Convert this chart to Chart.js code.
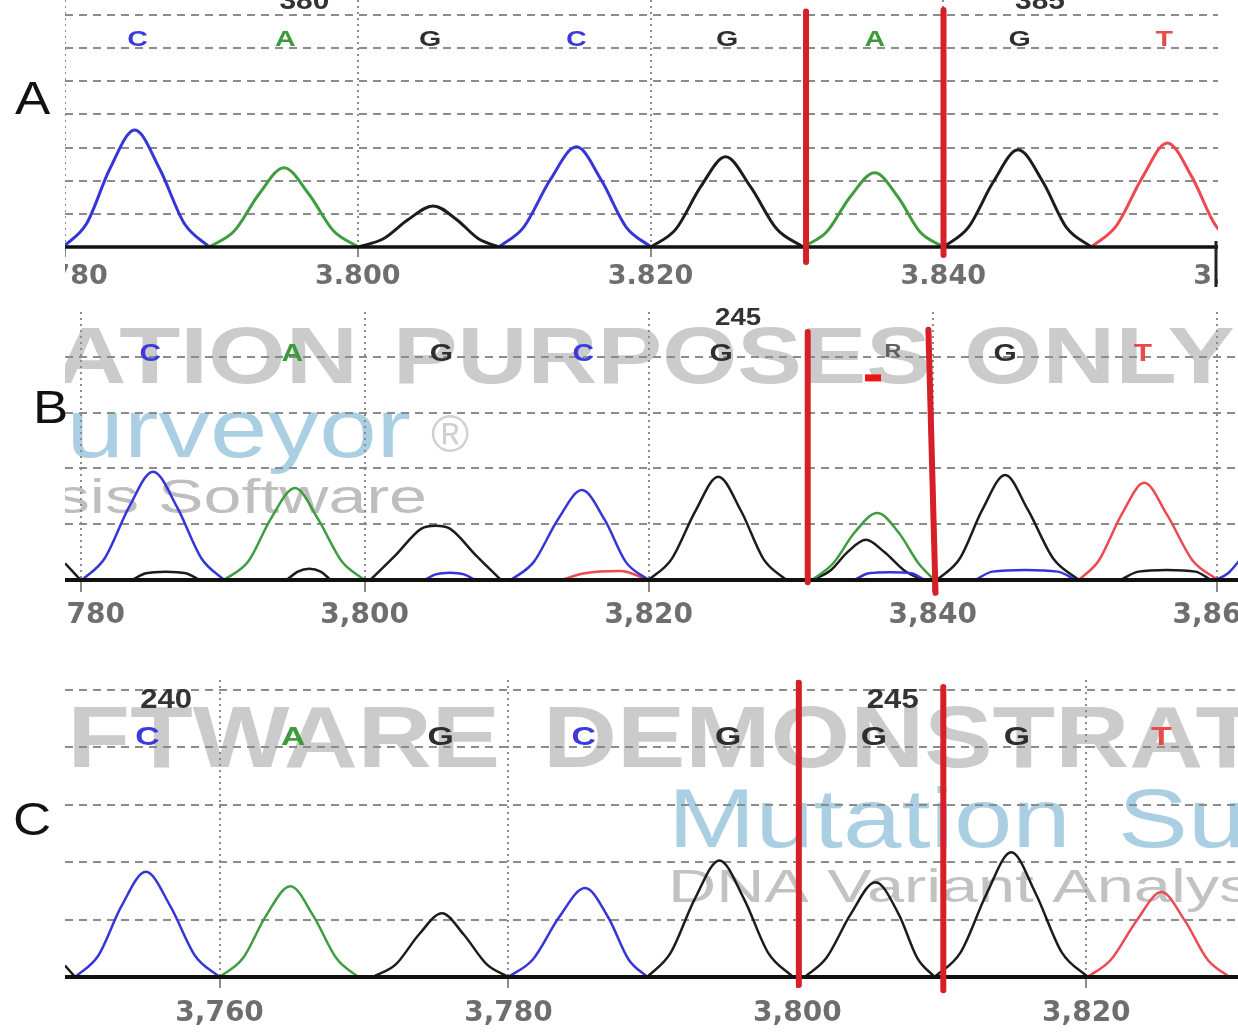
<!DOCTYPE html>
<html><head><meta charset="utf-8">
<script src="https://cdn.jsdelivr.net/npm/chart.js@4/dist/chart.umd.min.js"></script>
<style>
html,body{margin:0;padding:0;background:#fff;}
body{width:1238px;height:1032px;position:relative;overflow:hidden;}
.panel{position:absolute;overflow:hidden;}
.panel canvas{position:absolute;left:0;top:0;}
.plabel{position:absolute;font-family:'Liberation Sans',Arial,sans-serif;font-size:46px;line-height:46px;color:#111;transform:scaleX(1.15);transform-origin:0 0;}
</style></head><body>
<div class="plabel" style="left:15px;top:75px;">A</div>
<div class="plabel" style="left:33px;top:384px;">B</div>
<div class="plabel" style="left:13px;top:796px;">C</div>
<script>
// ================= DATA =================
// Panel A traces: [scan position, signal]
const A_blue = [
 [3779.8,0],[3781.4,0.7],[3783.0,2.36],[3784.7,3.53],[3786.4,2.36],[3788.1,0.7],[3789.8,0],
 [3800,null],
 [3809.6,0],[3811.3,0.6],[3813.1,2.02],[3814.9,3.02],[3816.6,2.02],[3818.3,0.6],[3820,0]
];
const A_green = [
 [3789.8,0],[3791.5,0.48],[3793.2,1.6],[3794.9,2.39],[3796.6,1.6],[3798.3,0.48],[3800,0],
 [3815,null],
 [3830.4,0],[3832.0,0.45],[3833.6,1.5],[3835.3,2.24],[3836.9,1.5],[3838.4,0.45],[3840,0]
];
const A_black = [
 [3800,0],[3801.7,0.25],[3803.4,0.83],[3805.1,1.24],[3806.7,0.83],[3808.2,0.25],[3809.6,0],
 [3815,null],
 [3820,0],[3821.7,0.54],[3823.4,1.82],[3825.1,2.72],[3826.8,1.82],[3828.6,0.54],[3830.4,0],
 [3835,null],
 [3840,0],[3841.7,0.59],[3843.4,1.96],[3845.1,2.93],[3846.8,1.96],[3848.4,0.59],[3850.1,0]
];
const A_red = [
 [3850.1,0],[3851.8,0.63],[3853.6,2.1],[3855.3,3.14],[3857.0,2.1],[3858.6,0.65],[3860.3,0]
];
const A_bases = ['C','A','G','C','G','A','G','T'];
const A_basePos = [3784.9,3795.0,3804.9,3814.9,3825.2,3835.3,3845.2,3855.1];
const A_nums = ['380','385'];
const A_numPos = [3796.3,3846.6];
const A_markTopX = [3830.6,3840.0], A_markBotX = [3830.6,3840.0];
const A_markTopY = [7.1,7.15], A_markBotY = [-0.45,-0.24];

// Panel B traces
const B_blue = [
 [3780.1,0],[3781.7,0.39],[3783.4,1.3],[3785.1,1.94],[3786.8,1.3],[3788.5,0.39],[3790.1,0],
 [3797,null],
 [3804.2,0],[3805.0,0.1],[3806.0,0.13],[3807.0,0.1],[3807.8,0],
 [3809,null],
 [3810.3,0],[3811.9,0.32],[3813.6,1.08],[3815.3,1.61],[3816.9,1.08],[3818.4,0.32],[3820,0],
 [3827,null],
 [3834.5,0],[3835.5,0.12],[3837.0,0.14],[3838.5,0.12],[3839.4,0],
 [3841,null],
 [3843.0,0],[3844.2,0.15],[3846.5,0.18],[3848.8,0.15],[3850.1,0],
 [3855,null],
 [3859.9,0],[3860.8,0.12],[3861.6,0.35]
];
const B_green = [
 [3790.1,0],[3791.8,0.33],[3793.4,1.1],[3795.1,1.65],[3796.7,1.1],[3798.4,0.33],[3800,0],
 [3815,null],
 [3831.5,0],[3833.0,0.3],[3834.5,0.85],[3836.1,1.2],[3837.6,0.85],[3839.0,0.3],[3840.1,0]
];
const B_black = [
 [3778.9,0.3],[3780.0,0],
 [3782,null],
 [3783.6,0],[3784.6,0.12],[3786.0,0.15],[3787.4,0.12],[3788.4,0],
 [3791,null],
 [3794.5,0],[3795.3,0.15],[3796.1,0.2],[3796.9,0.15],[3797.6,0],
 [3799,null],
 [3800.4,0],[3802.2,0.45],[3804.0,0.92],[3805.0,0.97],[3806.0,0.92],[3807.8,0.45],[3809.6,0],
 [3815,null],
 [3820,0],[3821.6,0.37],[3823.3,1.24],[3824.9,1.85],[3826.5,1.24],[3828.1,0.37],[3829.7,0],
 [3830.6,null],
 [3831.5,0],[3832.8,0.17],[3834.0,0.5],[3835.3,0.72],[3836.6,0.5],[3838.0,0.17],[3839.3,0],
 [3839.8,null],
 [3840.3,0],[3841.9,0.38],[3843.5,1.26],[3845.1,1.88],[3846.7,1.26],[3848.5,0.38],[3850.3,0],
 [3851.5,null],
 [3853.2,0],[3854.5,0.15],[3856.5,0.18],[3858.5,0.15],[3859.6,0]
];
const B_red = [
 [3813.8,0],[3815.5,0.12],[3818.0,0.16],[3820,0],
 [3835,null],
 [3850.3,0],[3851.7,0.35],[3853.3,1.17],[3854.9,1.74],[3856.5,1.17],[3858.3,0.35],[3860.1,0]
];
const B_bases = ['C','A','G','C','G','R','G','T'];
const B_basePos = [3784.9,3794.9,3805.4,3815.4,3825.1,3837.2,3845.1,3854.8];
const B_nums = ['245'];
const B_numPos = [3826.3];
const B_flagX = [3835.8], B_flagY = [3.62];
const B_markTopX = [3831.2,3839.7], B_markBotX = [3831.2,3840.2];
const B_markTopY = [4.44,4.48], B_markBotY = [-0.04,-0.23];

// Panel C traces
const C_blue = [
 [3750.0,0],[3751.6,0.37],[3753.2,1.23],[3754.9,1.83],[3756.6,1.23],[3758.3,0.37],[3760,0],
 [3770,null],
 [3780,0],[3781.7,0.31],[3783.5,1.04],[3785.3,1.55],[3786.9,1.04],[3788.3,0.31],[3789.6,0]
];
const C_green = [
 [3760,0],[3761.6,0.32],[3763.2,1.06],[3764.9,1.58],[3766.5,1.06],[3768.1,0.32],[3769.6,0]
];
const C_black = [
 [3749.3,0.2],[3750.0,0],
 [3760,null],
 [3770.6,0],[3772.2,0.22],[3773.8,0.74],[3775.4,1.11],[3776.9,0.74],[3778.5,0.22],[3780,0],
 [3785,null],
 [3789.6,0],[3791.2,0.41],[3792.9,1.36],[3794.6,2.03],[3796.3,1.36],[3798.0,0.41],[3799.7,0],
 [3800.1,null],
 [3800.5,0],[3802.0,0.33],[3803.7,1.1],[3805.4,1.65],[3807.0,1.1],[3808.3,0.33],[3809.5,0],
 [3809.5,null],
 [3809.5,0],[3811.3,0.43],[3813.1,1.45],[3814.8,2.17],[3816.5,1.45],[3818.3,0.43],[3820.1,0]
];
const C_red = [
 [3820.1,0],[3821.7,0.3],[3823.5,0.99],[3825.2,1.48],[3826.8,0.99],[3828.4,0.3],[3829.9,0]
];
const C_bases = ['C','A','G','C','G','G','G','T'];
const C_basePos = [3755.0,3765.1,3775.3,3785.2,3795.2,3805.3,3815.2,3825.2];
const C_nums = ['240','245'];
const C_numPos = [3756.3,3806.6];
const C_markTopX = [3800.1,3810.1], C_markBotX = [3800.1,3810.1];
const C_markTopY = [5.12,5.05], C_markBotY = [-0.14,-0.23];

// ================= STYLE =================
const BASE_COL = {C:'#3b3bdc', A:'#3c9c3c', G:'#2e2e2e', T:'#e84a4a', R:'#606060'};
const TRACE_COL = {blue:'#3535d8', green:'#3f9d3f', black:'#1c1c1c', red:'#ec4a50'};
const LS = '"Liberation Sans", Arial, sans-serif';
const GRID = '#8c8c8c';

function sText(ctx, txt, x, y, font, color, sx, align, baseline) {
  ctx.save();
  ctx.font = font; ctx.fillStyle = color;
  ctx.textAlign = align || 'left'; ctx.textBaseline = baseline || 'alphabetic';
  ctx.translate(x, y); ctx.scale(sx, 1);
  ctx.fillText(txt, 0, 0);
  ctx.restore();
}

function decor(cfg) {
  return {
    id: 'decor' + cfg.name,
    beforeDraw(chart) {
      const ctx = chart.ctx;
      cfg.watermarks.forEach(w => sText(ctx, w.text, w.x - cfg.left, w.y - cfg.top, w.font, w.color, w.sx, w.align));
    },
    afterDatasetsDraw(chart) {
      const ctx = chart.ctx, xs = chart.scales.x, ys = chart.scales.y, ca = chart.chartArea;
      const y0 = ys.getPixelForValue(0);
      ctx.save();
      ctx.strokeStyle = '#111'; ctx.lineWidth = cfg.baseW;
      ctx.beginPath(); ctx.moveTo(ca.left, y0); ctx.lineTo(ca.right, y0); ctx.stroke();
      ctx.restore();
      cfg.bases.forEach((b, i) => {
        const isR = b === 'R';
        sText(ctx, b, xs.getPixelForValue(cfg.basePos[i]), ys.getPixelForValue(cfg.rowY + (isR ? 0.05 : 0)),
          (isR ? 'bold 18px ' : 'bold ' + cfg.letterSize + 'px ') + LS, BASE_COL[b], 1.3, 'center', 'middle');
      });
      cfg.nums.forEach((n, i) => {
        sText(ctx, n, xs.getPixelForValue(cfg.numPos[i]), ys.getPixelForValue(cfg.numY),
          'bold ' + cfg.numSize + 'px ' + LS, '#333', 1.15, 'center', 'middle');
      });
      (cfg.flagX || []).forEach((fx, i) => {
        const px = xs.getPixelForValue(fx), py = ys.getPixelForValue(cfg.flagY[i]);
        ctx.save(); ctx.fillStyle = '#ee1515'; ctx.fillRect(px - 8, py - 3.5, 16, 7); ctx.restore();
      });
      if (cfg.edgeBar) {
        ctx.save(); ctx.strokeStyle = '#222'; ctx.lineWidth = 3;
        ctx.beginPath(); ctx.moveTo(cfg.edgeBar - cfg.left, y0 - 6); ctx.lineTo(cfg.edgeBar - cfg.left, y0 + 40); ctx.stroke();
        ctx.restore();
      }
    },
    afterDraw(chart) {
      const ctx = chart.ctx, xs = chart.scales.x, ys = chart.scales.y;
      ctx.save();
      ctx.strokeStyle = '#d61f27'; ctx.lineWidth = 6; ctx.lineCap = 'round';
      cfg.markTopX.forEach((tx, i) => {
        ctx.beginPath();
        ctx.moveTo(xs.getPixelForValue(tx), ys.getPixelForValue(cfg.markTopY[i]));
        ctx.lineTo(xs.getPixelForValue(cfg.markBotX[i]), ys.getPixelForValue(cfg.markBotY[i]));
        ctx.stroke();
      });
      ctx.restore();
    }
  };
}

function makePanel(cfg) {
  const wrap = document.createElement('div');
  wrap.className = 'panel';
  Object.assign(wrap.style, {left: cfg.left + 'px', top: cfg.top + 'px', width: cfg.viewW + 'px', height: cfg.h + 'px'});
  const cv = document.createElement('canvas');
  cv.width = cfg.w; cv.height = cfg.h;
  cv.style.width = cfg.w + 'px'; cv.style.height = cfg.h + 'px';
  wrap.appendChild(cv);
  document.body.appendChild(wrap);
  const fmt = v => String(Math.round(v)).replace(/\B(?=(\d{3})+(?!\d))/g, cfg.sep);
  new Chart(cv.getContext('2d'), {
    type: 'line',
    data: {
      datasets: cfg.traces.map(t => ({
        data: t.data, borderColor: t.color, borderWidth: cfg.lw, pointRadius: 0,
        fill: false, cubicInterpolationMode: 'monotone', spanGaps: false
      }))
    },
    options: {
      responsive: false, animation: false, devicePixelRatio: 1, events: [],
      layout: {autoPadding: false, padding: {top: cfg.padTop, left: 0, right: 0, bottom: 0}},
      plugins: {legend: {display: false}, tooltip: {enabled: false}, title: {display: false}},
      scales: {
        x: {
          type: 'linear', min: cfg.xmin, max: cfg.xmax,
          ticks: {stepSize: 20, includeBounds: false, autoSkip: false, maxRotation: 0, minRotation: 0,
            padding: cfg.tickPad, color: '#6e6e6e',
            font: {family: 'DejaVu Sans', weight: 'bold', size: cfg.tickSize},
            callback: v => fmt(v)},
          grid: {color: GRID, lineWidth: 2, drawTicks: true, tickLength: cfg.tickLen},
          border: {display: false, dash: [2, 4]},
          afterFit: s => { s.height = cfg.axisH; s.paddingLeft = 0; s.paddingRight = 0; s.paddingTop = 0; s.paddingBottom = 0; }
        },
        y: {
          type: 'linear', min: 0, max: cfg.ymax,
          ticks: {display: false, stepSize: 1, includeBounds: false},
          grid: {color: GRID, lineWidth: 2, drawTicks: false},
          border: {display: false, dash: [8, 6]},
          afterFit: s => { s.width = 0; s.paddingTop = 0; s.paddingBottom = 0; s.paddingLeft = 0; s.paddingRight = 0; }
        }
      }
    },
    plugins: [decor(cfg)]
  });
}

makePanel({
  name: 'A', left: 65, top: 0, viewW: 1153, w: 1171, h: 300, padTop: 0, axisH: 53,
  xmin: 3779.93, xmax: 3860, ymax: 7.45, sep: '.', tickSize: 27, tickPad: 4, tickLen: 10,
  lw: 3, baseW: 3.5, letterSize: 22, numSize: 26, rowY: 6.24, numY: 7.39, edgeBar: 1216,
  traces: [{data: A_blue, color: TRACE_COL.blue}, {data: A_green, color: TRACE_COL.green},
           {data: A_black, color: TRACE_COL.black}, {data: A_red, color: TRACE_COL.red}],
  bases: A_bases, basePos: A_basePos, nums: A_nums, numPos: A_numPos,
  markTopX: A_markTopX, markBotX: A_markBotX, markTopY: A_markTopY, markBotY: A_markBotY,
  watermarks: []
});

makePanel({
  name: 'B', left: 65, top: 300, viewW: 1173, w: 1173, h: 340, padTop: 12, axisH: 60,
  xmin: 3778.9, xmax: 3861.5, ymax: 4.8, sep: ',', tickSize: 28, tickPad: 7, tickLen: 12,
  lw: 2.5, baseW: 4, letterSize: 23, numSize: 24, rowY: 4.03, numY: 4.69,
  traces: [{data: B_blue, color: TRACE_COL.blue}, {data: B_green, color: TRACE_COL.green},
           {data: B_black, color: TRACE_COL.black}, {data: B_red, color: TRACE_COL.red}],
  bases: B_bases, basePos: B_basePos, nums: B_nums, numPos: B_numPos,
  flagX: B_flagX, flagY: B_flagY,
  markTopX: B_markTopX, markBotX: B_markBotX, markTopY: B_markTopY, markBotY: B_markBotY,
  watermarks: [
    {text: 'DEMONSTRATION', x: 358, y: 383, font: 'bold 80px ' + LS, color: '#cbcbcb', sx: 1.25, align: 'right'},
    {text: 'PURPOSES', x: 393, y: 383, font: 'bold 80px ' + LS, color: '#cbcbcb', sx: 1.21, align: 'left'},
    {text: 'ONLY', x: 964, y: 383, font: 'bold 80px ' + LS, color: '#cbcbcb', sx: 1.26, align: 'left'},
    {text: 'Mutation Surveyor', x: 411, y: 457, font: '84px ' + LS, color: '#aacfe3', sx: 1.23, align: 'right'},
    {text: '\u00AE', x: 431, y: 452, font: '52px ' + LS, color: '#d0d0d0', sx: 1, align: 'left'},
    {text: 'Analysis Software', x: 427, y: 513, font: '48px ' + LS, color: '#bebebe', sx: 1.42, align: 'right'}
  ]
});

makePanel({
  name: 'C', left: 65, top: 665, viewW: 1173, w: 1173, h: 367, padTop: 15, axisH: 55,
  xmin: 3749.3, xmax: 3830.5, ymax: 5.17, sep: ',', tickSize: 28, tickPad: 9, tickLen: 11,
  lw: 2.5, baseW: 4, letterSize: 26, numSize: 27, rowY: 4.16, numY: 4.82,
  traces: [{data: C_blue, color: TRACE_COL.blue}, {data: C_green, color: TRACE_COL.green},
           {data: C_black, color: TRACE_COL.black}, {data: C_red, color: TRACE_COL.red}],
  bases: C_bases, basePos: C_basePos, nums: C_nums, numPos: C_numPos,
  markTopX: C_markTopX, markBotX: C_markBotX, markTopY: C_markTopY, markBotY: C_markBotY,
  watermarks: [
    {text: 'SOFTWARE', x: 500, y: 767, font: 'bold 88px ' + LS, color: '#cbcbcb', sx: 1.164, align: 'right'},
    {text: 'DEMONSTRATION', x: 543, y: 767, font: 'bold 88px ' + LS, color: '#cbcbcb', sx: 1.164, align: 'left'},
    {text: 'Mutation', x: 668, y: 847, font: '84px ' + LS, color: '#aacfe3', sx: 1.25, align: 'left'},
    {text: 'Surveyor', x: 1118, y: 847, font: '84px ' + LS, color: '#aacfe3', sx: 1.25, align: 'left'},
    {text: 'DNA Variant Analysis', x: 668, y: 902, font: '46px ' + LS, color: '#c2c2c2', sx: 1.45, align: 'left'}
  ]
});
</script>
</body></html>
